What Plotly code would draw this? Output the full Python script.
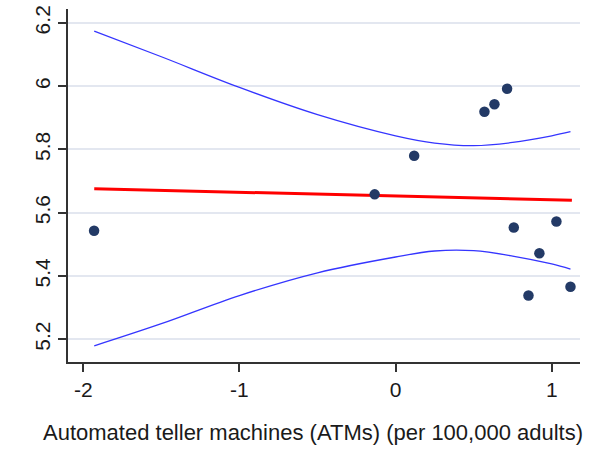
import plotly.graph_objects as go

# Scatter data (ATMs per 100,000 adults, standardized) vs outcome
atm_x = [-1.931, -0.134, 0.119, 0.569, 0.633, 0.714, 0.757, 0.851, 0.921, 1.030, 1.120]
outcome_y = [5.543, 5.658, 5.780, 5.919, 5.943, 5.992, 5.553, 5.338, 5.472, 5.572, 5.366]

# Fitted line endpoints
fit_x = [-1.93, 1.129]
fit_y = [5.676, 5.639]

# Confidence band
ci_x = [-1.93, -1.5, -1.0, -0.5, 0.0, 0.25, 0.5, 0.75, 1.0, 1.12]
ci_upper = [6.174, 6.093, 5.996, 5.910, 5.843, 5.820, 5.812, 5.822, 5.843, 5.856]
ci_lower = [5.179, 5.249, 5.338, 5.410, 5.460, 5.479, 5.480, 5.463, 5.438, 5.422]

x_ticks = [-2, -1, 0, 1]
y_ticks = [5.2, 5.4, 5.6, 5.8, 6.0, 6.2]
y_tick_text = ["5.2", "5.4", "5.6", "5.8", "6", "6.2"]
x_title = "Automated teller machines (ATMs) (per 100,000 adults)"

FONT = "Liberation Sans, Arial, sans-serif"

fig = go.Figure()
fig.add_trace(go.Scatter(x=ci_x, y=ci_upper, mode="lines",
                         line=dict(color="#3535ff", width=1.3, shape="spline"),
                         showlegend=False, hoverinfo="skip"))
fig.add_trace(go.Scatter(x=ci_x, y=ci_lower, mode="lines",
                         line=dict(color="#3535ff", width=1.3, shape="spline"),
                         showlegend=False, hoverinfo="skip"))
fig.add_trace(go.Scatter(x=fit_x, y=fit_y, mode="lines",
                         line=dict(color="#ff0000", width=3),
                         showlegend=False))
fig.add_trace(go.Scatter(x=atm_x, y=outcome_y, mode="markers",
                         marker=dict(color="#233a66", size=10.5, line=dict(width=0)),
                         showlegend=False))

fig.update_layout(
    width=616, height=449,
    margin=dict(l=68, r=36, t=5, b=87),
    paper_bgcolor="white", plot_bgcolor="white",
    font=dict(family=FONT, size=21, color="#1a1a1a"),
    showlegend=False,
)
fig.update_xaxes(
    range=[-2.098, 1.181], tickvals=x_ticks, ticktext=[str(v) for v in x_ticks],
    showgrid=False, zeroline=False,
    showline=True, linecolor="#333333", linewidth=2,
    ticks="outside", ticklen=8, tickwidth=1.5, tickcolor="#333333",
    tickfont=dict(size=21, family=FONT),
)
fig.update_yaxes(
    range=[5.128, 6.244], tickvals=y_ticks, ticktext=y_tick_text,
    showgrid=True, gridcolor="#e3e7f0", gridwidth=1.5, zeroline=False,
    showline=True, linecolor="#333333", linewidth=2,
    ticks="outside", ticklen=8, tickwidth=1.5, tickcolor="#333333",
    tickangle=-90, tickfont=dict(size=21, family=FONT),
)
fig.add_annotation(
    text=x_title, xref="paper", yref="paper",
    x=(312.5 - 68) / 512, y=(362 - 433) / 357,
    xanchor="center", yanchor="middle", showarrow=False,
    font=dict(size=22, family=FONT, color="#1a1a1a"),
)

fig.write_html("out.html")
